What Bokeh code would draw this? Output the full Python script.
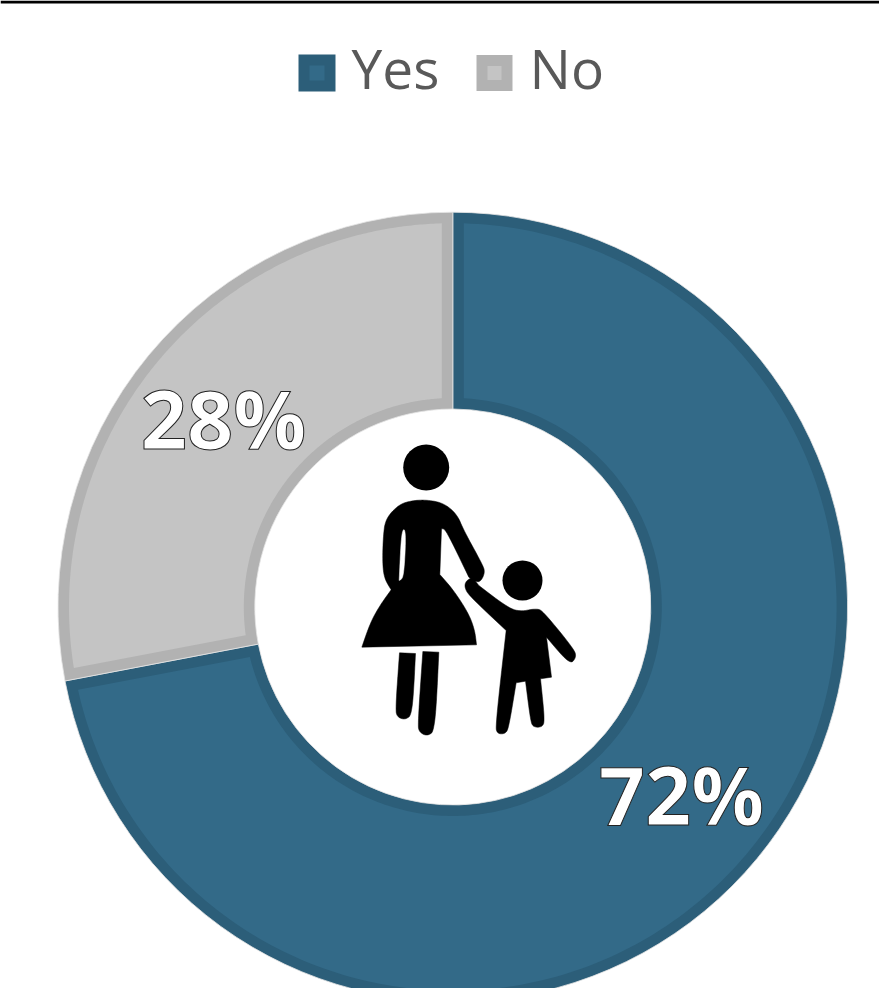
from math import pi
import numpy as np
from bokeh.plotting import figure
from bokeh.models import ColumnDataSource, Range1d, Span
from bokeh.core.properties import value
from bokeh.embed import file_html
from bokeh.resources import INLINE

categories = ["Yes", "No"]
shares = [72, 28]
labels = ["72%", "28%"]
fills = ["#336A88", "#C4C4C4"]
strokes = ["#2C5E79", "#B2B2B2"]

W, H = 879, 988
FONT = "Open Sans"
CX, CY = 452.3, 606.5
R_OUT, R_IN, BAND = 394.8, 198, 11

p = figure(width=W, height=H, output_backend="svg", toolbar_location=None,
           x_range=Range1d(0, W), y_range=Range1d(H, 0),
           min_border=0, outline_line_color=None, background_fill_color="white")
p.axis.visible = False
p.grid.visible = False

# donut: angles follow the values, clockwise from 12 o'clock
start, starts, ends = pi / 2, [], []
for s in shares:
    end = start - s / sum(shares) * 2 * pi
    starts.append(start)
    ends.append(end)
    start = end
src = ColumnDataSource(dict(cat=categories, start=starts, end=ends, fill=fills, line=strokes))
p.annular_wedge(x=CX, y=CY, inner_radius=R_IN, outer_radius=R_OUT, start_angle="start", end_angle="end",
                direction="clock", source=src, fill_color="line", line_color="#E4E4E4", line_width=0.8,
                line_join="miter")

# the lighter body of each slice, inside a band of constant width
xs, ys = [], []
for a0, a1 in zip(starts, ends):
    ro, ri = R_OUT - BAND, R_IN + BAND
    to = np.linspace(a0 - np.arcsin(BAND / ro), a1 + np.arcsin(BAND / ro), 240)
    ti = np.linspace(a1 + np.arcsin(BAND / ri), a0 - np.arcsin(BAND / ri), 240)
    xs.append(np.r_[CX + ro * np.cos(to), CX + ri * np.cos(ti)])
    ys.append(np.r_[CY - ro * np.sin(to), CY - ri * np.sin(ti)])
p.patches(xs, ys, fill_color=fills, line_color=None)

# top rule
p.add_layout(Span(location=1.5, dimension="width", line_color="black", line_width=3))

# legend
p.scatter(x=[316.5, 494], y=[72.5, 72.5], size=[26, 25], marker="square", fill_color=fills,
          line_color=strokes, line_width=11, line_join="miter")
p.text(x=[351, 529], y=[67, 67], text=categories, text_font=value(FONT), text_font_size="55px",
       text_color="#595959", text_baseline="alphabetic", text_align="left")

# data labels
p.text(x=[681, 223], y=[793, 417], text=labels, text_font=value(FONT), text_font_style="bold",
       text_font_size="81px", text_color="white", text_align="center", text_baseline="alphabetic",
       text_outline_color="#222222")

# icon, traced in a 3x crop whose corner is (340, 430)
def ix(a): return [340 + v / 3 for v in a]
def iy(a): return [430 + v / 3 for v in a]
def smooth(pts, n=3):
    pts = [(q[0], q[1], len(q) > 2) for q in pts]
    for _ in range(n):
        out = []
        for i, q in enumerate(pts):
            if q[2]:
                out.append(q)
                continue
            a, b = pts[i - 1], pts[(i + 1) % len(pts)]
            out.append((q[0] * .75 + a[0] * .25, q[1] * .75 + a[1] * .25, False))
            out.append((q[0] * .75 + b[0] * .25, q[1] * .75 + b[1] * .25, False))
        pts = out
    return pts
def poly(pts, color="black"):
    pts = smooth(pts)
    p.patch(ix([q[0] for q in pts]), iy([q[1] for q in pts]), fill_color=color, line_color=color,
            line_width=0.5, line_join="round")

S = 1
woman = [(64,650,S),(90,575),(120,522),(152,478,S),(132,445),(126,400),(128,320),(135,265),(175,222),(215,210),(260,208),(310,218),
         (350,252),(370,300),(425,400),(434,425),(420,455),(400,452),(385,440,S),(315,295),(303,295,S),(298,432,S),(340,480),(385,550),(403,600),(408,643,S)]
slit = [(183,298),(197,298),(190,442),(176,450,S)]
child = [(376,452),(395,440),(415,465,S),(480,515),(530,545),(590,533),(610,545),(700,655),(708,680),(688,703),(618,620,S),(633,740,S),(600,745,S),
         (613,870),(605,890),(578,890),(570,870),(555,752,S),(527,757,S),(505,890),(495,910),(470,910),(465,885),(497,600,S),(385,495),(372,470)]
leg1 = [(177,667,S),(225,669,S),(216,850),(195,868),(170,860),(165,835)]
leg2 = [(247,663,S),(295,665,S),(284,900),(260,917),(236,905),(232,880)]
for pts in (woman, child, leg1, leg2):
    poly(pts)
poly(slit, "white")
p.circle(x=[425.7, 522], y=[467, 580], radius=[23, 20], fill_color="black", line_color=None)

open("out.html", "w").write(file_html(p, INLINE))
